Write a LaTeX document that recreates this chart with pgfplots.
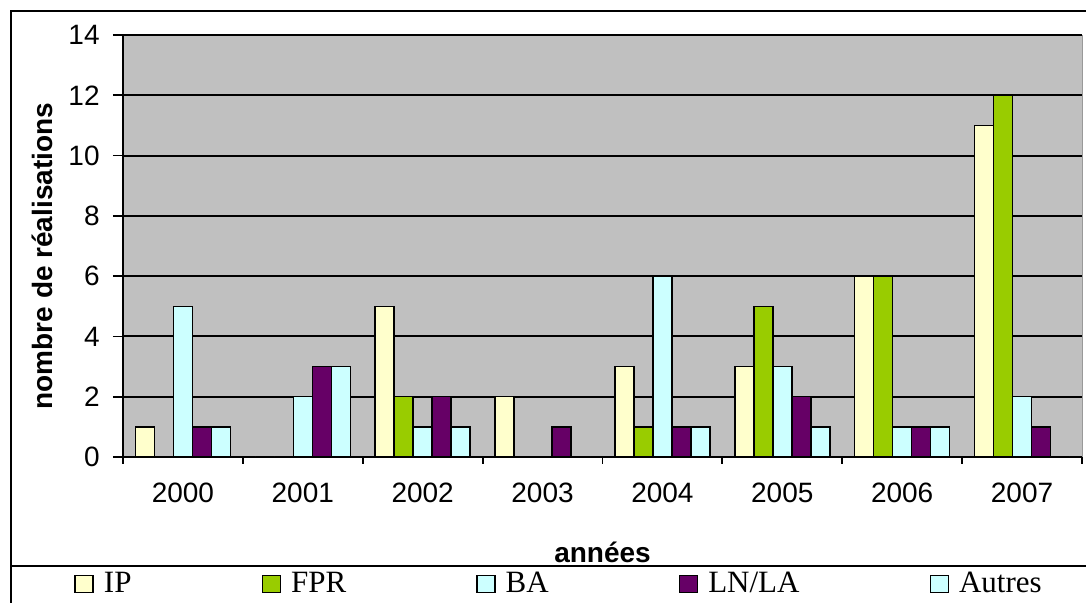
\documentclass[border=0pt]{standalone}
\usepackage{fontspec}
\setmainfont{Liberation Sans}
\newfontfamily\legfont{Liberation Serif}
\usepackage{pgfplots}
\pgfplotsset{compat=1.18}

\definecolor{ipcol}{HTML}{FFFFCC}
\definecolor{fprcol}{HTML}{99CC00}
\definecolor{bacol}{HTML}{CCFFFF}
\definecolor{lncol}{HTML}{660066}
\definecolor{autcol}{HTML}{CCFFFF}
\definecolor{plotbg}{HTML}{C0C0C0}

\begin{document}
\begin{tikzpicture}
\useasboundingbox (0pt,0pt) rectangle (543pt,301.5pt);
\clip (0pt,0pt) rectangle (543pt,301.5pt);
\fill[white] (0pt,0pt) rectangle (543pt,301.5pt);
% outer chart frame and legend separator
\draw[line width=1pt] (560pt,296pt) -- (5.5pt,296pt) -- (5.5pt,-10pt);
\draw[line width=1pt] (5.5pt,18.5pt) -- (560pt,18.5pt);

\begin{axis}[
  at={(61.5pt,73pt)}, anchor=south west,
  scale only axis, width=479.5pt, height=211pt,
  xmin=-0.5, xmax=7.5, ymin=0, ymax=14,
  ybar=0pt, bar width=9.5pt,
  axis background/.style={fill=plotbg, draw=black!40},
  axis x line*=bottom, axis y line*=left,
  axis line style={line width=0.9pt, black, -},
  tick align=outside,
  xtick={0,...,7},
  xticklabels={2000,2001,2002,2003,2004,2005,2006,2007},
  major x tick style={draw=none},
  minor xtick={-0.5,0.5,...,7.5},
  minor tick length=3.5pt,
  major tick length=5pt,
  every tick/.style={black, line width=0.9pt},
  ytick={0,2,...,14},
  ymajorgrids,
  major grid style={black, line width=1pt},
  /pgf/number format/assume math mode=true,
  ticklabel style={font=\fontsize{14}{16}\selectfont},
  yticklabel style={anchor=east, inner sep=0pt, xshift=-6.5pt},
  xticklabel style={anchor=north, inner sep=0pt, yshift=-8pt},
  ylabel={nombre de réalisations},
  ylabel style={at={(axis description cs:-0.0845,0.476)}, anchor=center, font=\bfseries\fontsize{14}{16}\selectfont},
  xlabel={années},
  xlabel style={at={(axis description cs:0.5,-0.225)}, anchor=center, font=\bfseries\fontsize{14}{16}\selectfont},
  legend columns=5,
  legend style={at={(axis description cs:-0.051,-0.301)}, anchor=west,
    draw=none, fill=none, inner sep=0pt,
    font=\legfont\fontsize{15.5}{18}\selectfont,
    /tikz/every even column/.append style={column sep=65pt},
    nodes={inner sep=0pt, anchor=base west}},
  legend image code/.code={\draw[#1, draw=black, line width=0.75pt] (0pt,0pt) rectangle (9pt,8.5pt);},
  every axis plot/.append style={draw=black, line width=0.75pt},
]
\addplot[fill=ipcol] coordinates {(0,1) (1,0) (2,5) (3,2) (4,3) (5,3) (6,6) (7,11)};
\addlegendentry{\hspace{5pt}IP}
\addplot[fill=fprcol] coordinates {(0,0) (1,0) (2,2) (3,0) (4,1) (5,5) (6,6) (7,12)};
\addlegendentry{\hspace{5pt}FPR}
\addplot[fill=bacol] coordinates {(0,5) (1,2) (2,1) (3,0) (4,6) (5,3) (6,1) (7,2)};
\addlegendentry{\hspace{5pt}BA}
\addplot[fill=lncol] coordinates {(0,1) (1,3) (2,2) (3,1) (4,1) (5,2) (6,1) (7,1)};
\addlegendentry{\hspace{5pt}LN/LA}
\addplot[fill=autcol] coordinates {(0,1) (1,3) (2,1) (3,0) (4,1) (5,1) (6,1) (7,0)};
\addlegendentry{\hspace{5pt}Autres}
\end{axis}
\end{tikzpicture}
\end{document}
